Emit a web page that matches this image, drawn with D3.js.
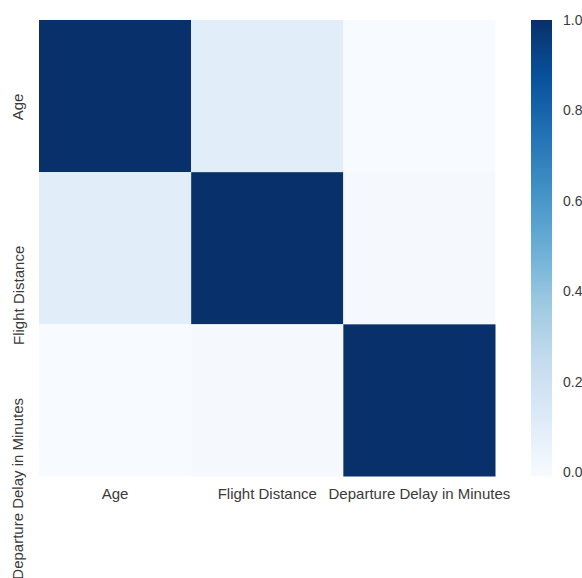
<!DOCTYPE html>
<html>
<head>
<meta charset="utf-8">
<script src="https://cdn.jsdelivr.net/npm/d3@7"></script>
<style>
  html, body { margin: 0; padding: 0; background: #fff; }
  svg { display: block; font-family: "Liberation Sans", Arial, sans-serif; }
</style>
</head>
<body>
<svg id="chart" width="582" height="578"></svg>
<script>
// Correlation matrix of three numeric columns
const variables = ["Age", "Flight Distance", "Departure Delay in Minutes"];
const rowAge      = [1.0, 0.0998, -0.0101];
const rowDistance = [0.0998, 1.0, 0.0021];
const rowDelay    = [-0.0101, 0.0021, 1.0];
const matrix = [rowAge, rowDistance, rowDelay];
const colorbarTicks = [0.0, 0.2, 0.4, 0.6, 0.8, 1.0];

// "Blues" colour ramp stops
const bluesStops = ["#f7fbff", "#deebf7", "#c6dbef", "#9ecae1", "#6baed6",
                    "#4292c6", "#2171b5", "#08519c", "#08306b"];

const vmin = d3.min(matrix.flat());
const vmax = d3.max(matrix.flat());

const svg = d3.select("#chart");
const plotLeft = 39, plotTop = 20, plotSize = 456.5;
const fontSize = 15;
const textColor = "#3a3a3a";

const x = d3.scaleBand().domain(variables).range([plotLeft, plotLeft + plotSize]);
const y = d3.scaleBand().domain(variables).range([plotTop, plotTop + plotSize]);

const color = d3.scaleLinear()
  .domain(bluesStops.map((_, i) => vmin + (vmax - vmin) * i / (bluesStops.length - 1)))
  .range(bluesStops)
  .interpolate(d3.interpolateRgb);

// Heatmap cells
const cells = [];
matrix.forEach((row, i) => row.forEach((v, j) => cells.push({ r: variables[i], c: variables[j], v })));
svg.append("g").selectAll("rect")
  .data(cells)
  .join("rect")
  .attr("x", d => x(d.c))
  .attr("y", d => y(d.r))
  .attr("width", x.bandwidth())
  .attr("height", y.bandwidth())
  .attr("fill", d => color(d.v));

// Column labels
const xAxis = svg.append("g")
  .attr("transform", `translate(0,${plotTop + plotSize})`)
  .call(d3.axisBottom(x).tickSize(0).tickPadding(11.5));
xAxis.select(".domain").remove();
xAxis.selectAll("text")
  .attr("fill", textColor)
  .style("font-size", fontSize + "px")
  .style("font-family", '"Liberation Sans", Arial, sans-serif');

// Row labels, rotated, ending at the middle of each row
const rowLabelX = 23.5;
svg.append("g").selectAll("text")
  .data(variables)
  .join("text")
  .attr("x", rowLabelX)
  .attr("y", d => y(d) + y.bandwidth() / 2 - 2.5)
  .attr("transform", d => `rotate(-90, ${rowLabelX}, ${y(d) + y.bandwidth() / 2 - 2.5})`)
  .attr("text-anchor", "end")
  .attr("fill", textColor)
  .style("font-size", fontSize + "px")
  .text(d => d);

// Colour bar
const cbX = 531, cbW = 21;
const cbScale = d3.scaleLinear().domain([vmin, vmax]).range([plotTop + plotSize, plotTop]);
const grad = svg.append("defs").append("linearGradient")
  .attr("id", "cbGrad")
  .attr("x1", 0).attr("y1", 1).attr("x2", 0).attr("y2", 0);
grad.selectAll("stop")
  .data(bluesStops)
  .join("stop")
  .attr("offset", (_, i) => i / (bluesStops.length - 1))
  .attr("stop-color", d => d);
svg.append("rect")
  .attr("x", cbX).attr("y", plotTop)
  .attr("width", cbW).attr("height", plotSize)
  .attr("fill", "url(#cbGrad)");

const cbAxis = svg.append("g")
  .attr("transform", `translate(${cbX + cbW},0)`)
  .call(d3.axisRight(cbScale).tickValues(colorbarTicks).tickSize(0).tickPadding(11).tickFormat(d3.format(".1f")));
cbAxis.select(".domain").remove();
cbAxis.selectAll("text")
  .attr("fill", textColor)
  .style("font-size", "14px")
  .style("font-family", '"Liberation Sans", Arial, sans-serif');
</script>
</body>
</html>
